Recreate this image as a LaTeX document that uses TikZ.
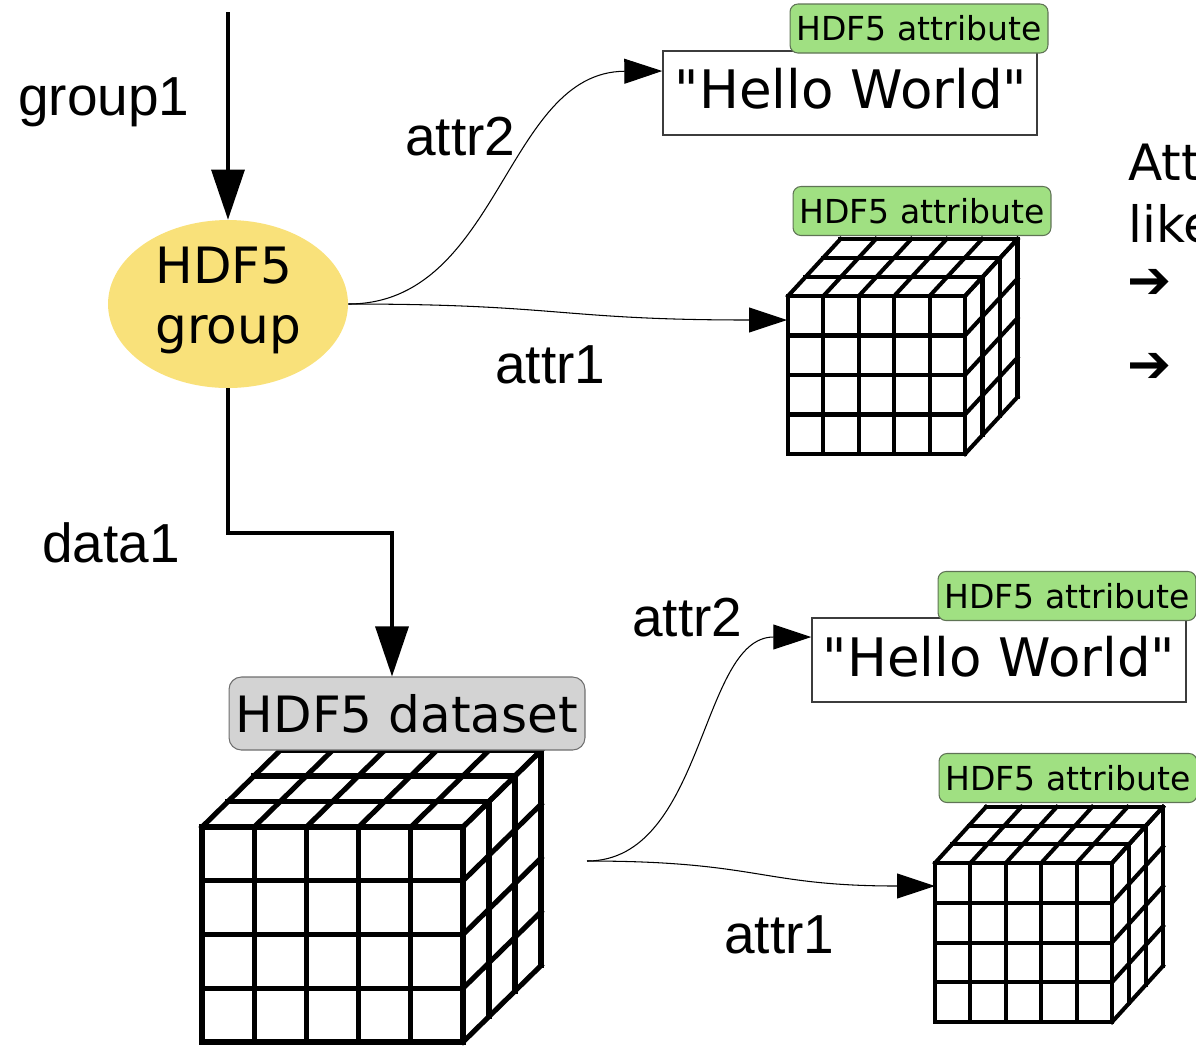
\documentclass[tikz,border=0pt]{standalone}
\usepackage{fontspec}
\setmainfont{DejaVu Sans}
\newfontfamily\labelfont{Liberation Sans}
\newfontfamily\plainfont{DejaVu Sans}
\newfontfamily\heavyfont{DejaVu Sans Bold}
\usetikzlibrary{shapes.geometric,arrows.meta}

\definecolor{grpyellow}{RGB}{249,225,122}
\definecolor{taggreen}{RGB}{160,224,130}
\definecolor{tagborder}{RGB}{95,115,85}
\definecolor{dsgray}{RGB}{211,211,211}
\definecolor{dsborder}{RGB}{110,110,110}
\definecolor{boxborder}{RGB}{60,60,60}

% A 5 x 4 x 3 grid of cells seen in oblique view.
% #1,#2: top-left corner of the front face; #3,#4: cell width/height;
% #5,#6: offset of one depth layer; #7: line width.
\newcommand\gridcube[7]{%
  \begin{scope}[line width=#7, line cap=rect, line join=miter]
    \fill[white] (#1,#2) -- ({#1},{#2+4*(#4)}) -- ({#1+5*(#3)},{#2+4*(#4)})
      -- ({#1+5*(#3)+3*(#5)},{#2+4*(#4)+3*(#6)}) -- ({#1+5*(#3)+3*(#5)},{#2+3*(#6)})
      -- ({#1+3*(#5)},{#2+3*(#6)}) -- cycle;
    % front face
    \foreach \i in {0,...,5}
      \draw ({#1+\i*(#3)},{#2}) -- ++(0,{4*(#4)});
    \foreach \j in {0,...,4}
      \draw ({#1},{#2+\j*(#4)}) -- ++({5*(#3)},0);
    % top face
    \foreach \i in {0,...,5}
      \draw ({#1+\i*(#3)},{#2}) -- ++({3*(#5)},{3*(#6)});
    \foreach \k in {1,...,3}
      \draw ({#1+\k*(#5)},{#2+\k*(#6)}) -- ++({5*(#3)},0);
    % right face
    \foreach \j in {0,...,4}
      \draw ({#1+5*(#3)},{#2+\j*(#4)}) -- ++({3*(#5)},{3*(#6)});
    \foreach \k in {1,...,3}
      \draw ({#1+5*(#3)+\k*(#5)},{#2+\k*(#6)}) -- ++(0,{4*(#4)});
  \end{scope}}

\tikzset{
  lbl/.style={font=\labelfont\fontsize{31.3pt}{36pt}\selectfont, anchor=base west, inner sep=0},
  sidetext/.style={font=\fontsize{28.5pt}{34pt}\selectfont, anchor=base west, inner sep=0},
  bulletmark/.style={font=\heavyfont\fontsize{30pt}{32pt}\selectfont, inner sep=0},
  attrtag/.style={draw=tagborder, fill=taggreen, rounded corners=4.5pt, line width=0.6pt,
    minimum width=5.16cm, minimum height=0.98cm, inner sep=0,
    font=\fontsize{18.8pt}{22pt}\selectfont},
  dstag/.style={draw=dsborder, fill=dsgray, rounded corners=7pt, line width=0.6pt,
    minimum width=7.12cm, minimum height=1.46cm, inner sep=0,
    font=\fontsize{28.5pt}{34pt}\selectfont},
  valbox/.style={draw=boxborder, fill=white, line width=0.9pt,
    minimum width=7.48cm, minimum height=1.68cm, inner sep=0,
    font=\plainfont\fontsize{30.2pt}{34pt}\selectfont},
  valtext/.style={font=\plainfont\fontsize{30.2pt}{34pt}\selectfont, inner sep=0, anchor=base},
  groupnode/.style={ellipse, fill=grpyellow, minimum width=4.8cm, minimum height=3.36cm,
    inner sep=0},
  grouptext/.style={font=\fontsize{28.5pt}{34.1pt}\selectfont, inner sep=0, anchor=base west},
  link/.style={line width=0.6pt, -{Triangle[length=21.6pt,width=14.2pt]}},
  mainlink/.style={line width=1.9pt, -{Triangle[length=28.5pt,width=18.8pt]}},
}

\begin{document}
\begin{tikzpicture}[x=0.02cm, y=-0.02cm]
\useasboundingbox (0,0) rectangle (1196,1046);
\clip (0,0) rectangle (1196,1046);

% data cubes
\gridcube{788}{296}{35.4}{39.5}{17.5}{-19}{2.3pt}
\gridcube{935}{863}{35.4}{39.75}{17}{-18.7}{2.3pt}
\gridcube{202}{827}{52.2}{53.75}{26}{-25.5}{2.9pt}

% group
\node[groupnode] (grp) at (228,304) {};
\node[grouptext] (grp-l1) at (155,283) {HDF5};
\node[grouptext] (grp-l2) at (155,343) {group};

% attribute values and tags
\node[valbox] (hw1) at (850,93) {};
\node[valtext] (hw1-t) at (851,108) {"Hello World"};
\node[attrtag] (tag1) at (919,28.5) {HDF5 attribute};
\node[attrtag] (tag2) at (922,211) {HDF5 attribute};
\node[valbox] (hw2) at (999,660) {};
\node[valtext] (hw2-t) at (999,676) {"Hello World"};
\node[attrtag] (tag3) at (1067,596) {HDF5 attribute};
\node[attrtag] (tag4) at (1068,778) {HDF5 attribute};
\node[dstag] (ds) at (407,713.5) {HDF5 dataset};

% link names
\node[lbl] (nm-group1) at (18,115) {group1};
\node[lbl] (nm-attr2a) at (405,155) {attr2};
\node[lbl] (nm-attr1a) at (495,383) {attr1};
\node[lbl] (nm-data1) at (42,562) {data1};
\node[lbl] (nm-attr2b) at (632,636) {attr2};
\node[lbl] (nm-attr1b) at (724,953) {attr1};

% side notes
\node[sidetext] (note1) at (1128,180) {Att};
\node[sidetext] (note2) at (1128,242) {like};
\node[bulletmark] (bullet1) at (1150,284) {➔};
\node[bulletmark] (bullet2) at (1150,368) {➔};

% connectors
\coordinate (entry) at (228,12);
\coordinate (bend) at (392,533);
\coordinate (cube1in) at (787,320);
\coordinate (cube2in) at (935,886);
\coordinate (dsout) at (587,861);

\draw[mainlink] (entry) -- (grp.north);
\draw[mainlink] (grp.south) |- (bend) -- (ds.north -| bend);
\draw[link] (grp.east) .. controls (500,304) and (505,72) .. ([yshift=0.44cm]hw1.west);
\draw[link] (grp.east) .. controls (560,304) and (560,320) .. (cube1in);
\draw[link] (dsout) .. controls (705,861) and (700,637) .. ([yshift=0.46cm]hw2.west);
\draw[link] (dsout) .. controls (760,861) and (760,886) .. (cube2in);
\end{tikzpicture}
\end{document}
